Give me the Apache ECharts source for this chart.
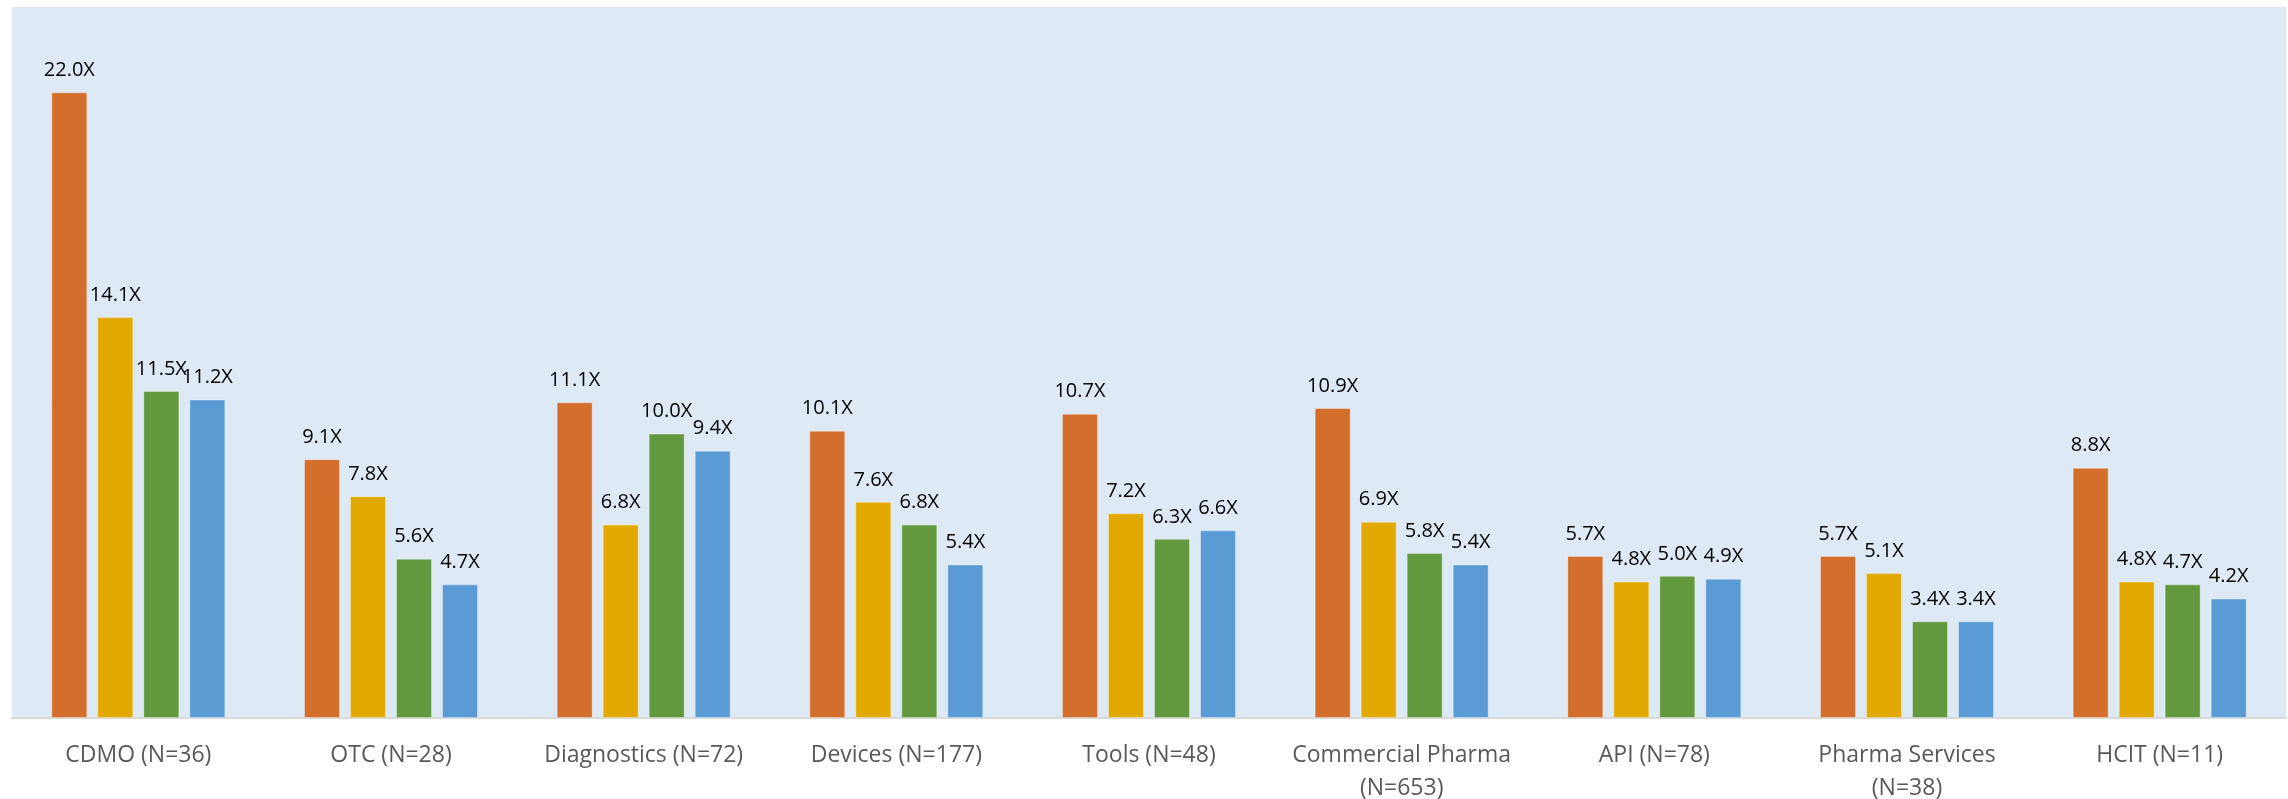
<!DOCTYPE html>
<html>
<head>
<meta charset="utf-8">
<script src="https://cdn.jsdelivr.net/npm/echarts@6/dist/echarts.min.js"></script>
<style>
html,body{margin:0;padding:0;background:#fff;}
#chart{width:2288px;height:799px;}
</style>
</head>
<body>
<div id="chart"></div>
<script>
const categories = ['CDMO (N=36)', 'OTC (N=28)', 'Diagnostics (N=72)', 'Devices (N=177)', 'Tools (N=48)', 'Commercial Pharma\n(N=653)', 'API (N=78)', 'Pharma Services\n(N=38)', 'HCIT (N=11)'];
const series1 = [22.0, 9.1, 11.1, 10.1, 10.7, 10.9, 5.7, 5.7, 8.8];
const series2 = [14.1, 7.8, 6.8, 7.6, 7.2, 6.9, 4.8, 5.1, 4.8];
const series3 = [11.5, 5.6, 10.0, 6.8, 6.3, 5.8, 5.0, 3.4, 4.7];
const series4 = [11.2, 4.7, 9.4, 5.4, 6.6, 5.4, 4.9, 3.4, 4.2];
const seriesNames = ['Series 1', 'Series 2', 'Series 3', 'Series 4'];
const colors = ['#D36E2C', '#E2AA00', '#63993E', '#5B9BD5'];

const chart = echarts.init(document.getElementById('chart'), null, {renderer: 'canvas'});
const font = '"Open Sans", "Noto Sans", sans-serif';
function mk(name, data, color) {
  return {
    name: name,
    type: 'bar',
    data: data,
    barWidth: 36,
    barGap: '27.8%',
    itemStyle: {color: color, borderColor: 'rgba(255,255,255,0.35)', borderWidth: 1},
    label: {
      show: true,
      position: 'top',
      distance: 12,
      formatter: p => p.value.toFixed(1) + 'X',
      color: '#000',
      fontFamily: font,
      fontSize: 20
    },
    emphasis: {disabled: true}
  };
}
chart.setOption({
  animation: false,
  backgroundColor: '#ffffff',
  grid: {left: 12, right: 2, top: 7, bottom: 81, show: true, backgroundColor: '#DDEAF6', borderWidth: 0, containLabel: false, outerBoundsMode: 'none'},
  xAxis: {
    type: 'category',
    data: categories,
    axisLine: {show: true, lineStyle: {color: '#D9D9D9', width: 2}},
    axisTick: {show: false},
    axisLabel: {interval: 0, color: '#595959', fontFamily: font, fontSize: 23, lineHeight: 33, margin: 21}
  },
  yAxis: {
    type: 'value', min: 0, max: 25, show: false,
    splitLine: {show: false}
  },
  series: [
    mk(seriesNames[0], series1, colors[0]),
    mk(seriesNames[1], series2, colors[1]),
    mk(seriesNames[2], series3, colors[2]),
    mk(seriesNames[3], series4, colors[3])
  ]
});
</script>
</body>
</html>
